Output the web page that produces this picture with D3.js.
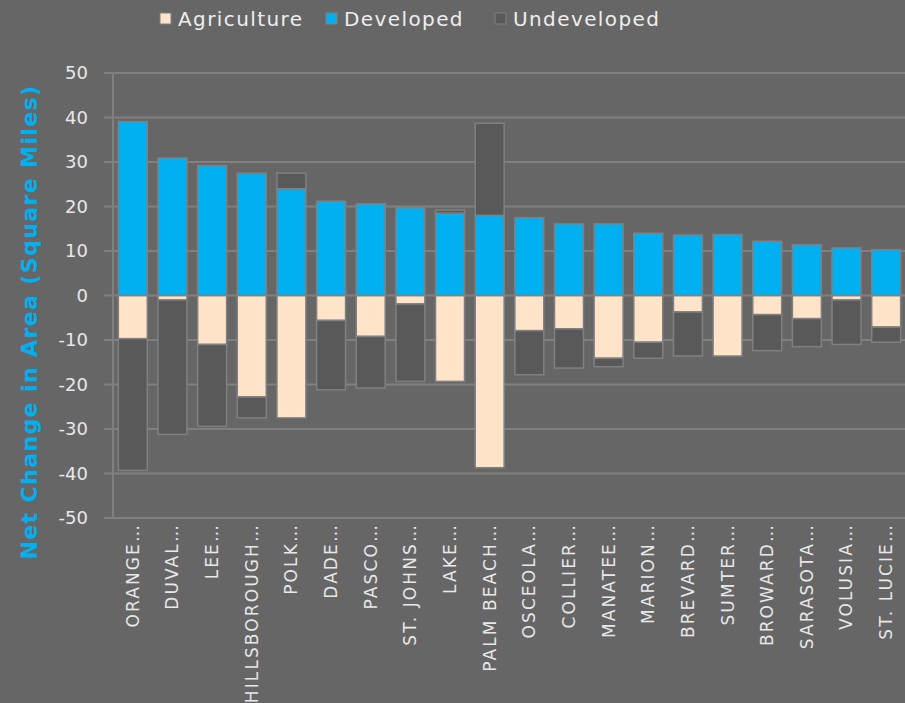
<!DOCTYPE html>
<html>
<head>
<meta charset="utf-8">
<script src="https://cdn.jsdelivr.net/npm/d3@7"></script>
<style>
  html, body { margin: 0; padding: 0; background: #666666; }
  svg { display: block; }
</style>
</head>
<body>
<div id="chart"></div>
<script>
// data (square miles)
const counties = ['ORANGE…', 'DUVAL…', 'LEE…', 'HILLSBOROUGH…', 'POLK…', 'DADE…', 'PASCO…',
  'ST. JOHNS…', 'LAKE…', 'PALM BEACH…', 'OSCEOLA…', 'COLLIER…', 'MANATEE…', 'MARION…',
  'BREVARD…', 'SUMTER…', 'BROWARD…', 'SARASOTA…', 'VOLUSIA…', 'ST. LUCIE…'];
const agriculture = [-9.7, -1.0, -11.0, -22.8, -27.5, -5.6, -9.2, -1.9, -19.3, -38.7,
  -7.9, -7.5, -14.1, -10.5, -3.7, -13.6, -4.3, -5.2, -1.0, -7.1];
const developed = [39.1, 30.9, 29.2, 27.5, 24.0, 21.2, 20.6, 19.7, 18.5, 18.0,
  17.5, 16.1, 16.1, 14.0, 13.6, 13.7, 12.2, 11.4, 10.7, 10.3];
const undeveloped = [-29.6, -30.2, -18.4, -4.7, 3.5, -15.6, -11.6, -17.4, 0.7, 20.7,
  -9.9, -8.8, -1.9, -3.6, -9.9, 0, -8.1, -6.3, -10.0, -3.4];
const seriesNames = ['Agriculture', 'Developed', 'Undeveloped'];
const yTicks = [50, 40, 30, 20, 10, 0, -10, -20, -30, -40, -50];

const width = 905, height = 703;
const plot = {left: 113, right: 906, top: 73, bottom: 518};
const colors = {Agriculture: '#ffe4c9', Developed: '#00b0f0', Undeveloped: '#595959'};
const font = '"DejaVu Sans", sans-serif';

const rows = counties.map((c, i) => ({
  county: c,
  Agriculture: agriculture[i],
  Developed: developed[i],
  Undeveloped: undeveloped[i]
}));

const stacked = d3.stack()
  .keys(seriesNames)
  .offset(d3.stackOffsetDiverging)(rows);

const svg = d3.select('#chart')
  .append('svg')
  .attr('width', width)
  .attr('height', height);

const x = d3.scaleBand()
  .domain(counties)
  .range([plot.left, plot.right])
  .paddingInner(0.27)
  .paddingOuter(0.135);

const y = d3.scaleLinear()
  .domain([-50, 50])
  .range([plot.bottom, plot.top]);

// gridlines + tick marks
svg.append('g')
  .selectAll('line')
  .data(yTicks)
  .enter()
  .append('line')
  .attr('x1', plot.left - 9)
  .attr('x2', plot.right)
  .attr('y1', d => y(d))
  .attr('y2', d => y(d))
  .attr('stroke', '#808080')
  .attr('stroke-width', 2);

svg.append('line')
  .attr('x1', plot.left).attr('x2', plot.left)
  .attr('y1', plot.top).attr('y2', plot.bottom)
  .attr('stroke', '#808080')
  .attr('stroke-width', 2);

// y tick labels
svg.append('g')
  .selectAll('text')
  .data(yTicks)
  .enter()
  .append('text')
  .attr('x', 88)
  .attr('y', d => y(d))
  .attr('dy', '0.35em')
  .attr('text-anchor', 'end')
  .attr('font-family', font)
  .attr('font-size', 18)
  .attr('fill', '#e8e8e8')
  .text(d => d);

// bars
svg.append('g')
  .selectAll('g')
  .data(stacked)
  .enter()
  .append('g')
  .attr('fill', d => colors[d.key])
  .selectAll('rect')
  .data(d => d)
  .enter()
  .append('rect')
  .attr('x', d => x(d.data.county))
  .attr('width', x.bandwidth())
  .attr('y', d => y(Math.max(d[0], d[1])))
  .attr('height', d => Math.abs(y(d[0]) - y(d[1])))
  .attr('stroke', '#808080')
  .attr('stroke-width', 1.5);

// x labels
svg.append('g')
  .selectAll('text')
  .data(counties)
  .enter()
  .append('text')
  .attr('transform', d => `translate(${x(d) + x.bandwidth() / 2}, ${plot.bottom + 5}) rotate(-90)`)
  .attr('dy', '0.35em')
  .attr('text-anchor', 'end')
  .attr('font-family', font)
  .attr('font-size', 17)
  .attr('letter-spacing', 2.1)
  .attr('fill', '#e8e8e8')
  .text(d => d);

// y axis title
svg.append('text')
  .attr('transform', `translate(29, 322) rotate(-90)`)
  .attr('dy', '0.35em')
  .attr('text-anchor', 'middle')
  .attr('font-family', font)
  .attr('font-weight', 'bold')
  .attr('font-size', 22)
  .attr('letter-spacing', 1.4)
  .attr('fill', '#00b0f0')
  .text('Net Change in Area (Square Miles)');

// legend
const legendX = [160, 326, 495];
const legend = svg.append('g')
  .selectAll('g')
  .data(seriesNames)
  .enter()
  .append('g')
  .attr('transform', (d, i) => `translate(${legendX[i]}, 19)`);

legend.append('rect')
  .attr('x', 0)
  .attr('y', -6)
  .attr('width', 11)
  .attr('height', 11)
  .attr('fill', d => colors[d])
  .attr('stroke', '#808080')
  .attr('stroke-width', 1);

legend.append('text')
  .attr('x', 18)
  .attr('dy', '0.35em')
  .attr('font-family', font)
  .attr('font-size', 20)
  .attr('letter-spacing', 1.4)
  .attr('fill', '#eeeeee')
  .text(d => d);
</script>
</body>
</html>
